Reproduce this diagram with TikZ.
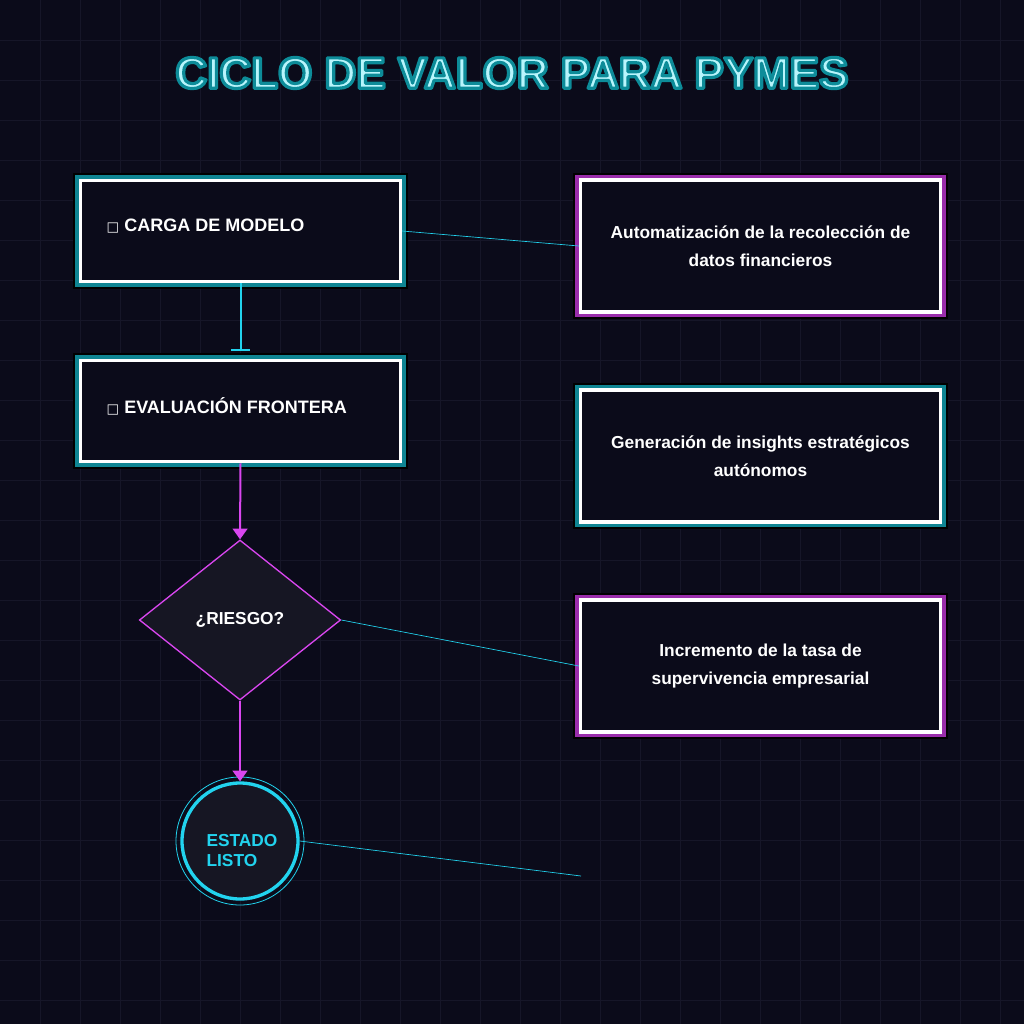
\documentclass[tikz,border=0pt]{standalone}
\usepackage{fontspec}
\setmainfont{Liberation Sans}
\newfontfamily\symfont{DejaVu Sans}
\usetikzlibrary{shapes.geometric,arrows.meta}
\definecolor{bgdark}{HTML}{0B0B1A}
\definecolor{gridc}{HTML}{161628}
\definecolor{cyanc}{HTML}{22D3EE}
\definecolor{tealg}{HTML}{0F8593}
\definecolor{magc}{HTML}{D946EF}
\definecolor{magg}{HTML}{9A2DAB}
\definecolor{nodefill}{HTML}{161623}
\definecolor{titlec}{HTML}{A5F3FC}

\begin{document}
\begin{tikzpicture}[x=0.75pt,y=-0.75pt,
  step box/.style={rectangle,draw=white,line width=2.4pt,fill=bgdark,
    minimum width=240pt,minimum height=76pt,inner sep=0pt,
    preaction={draw=black,line width=11pt},
    preaction={draw=#1,line width=8pt}},
  info box/.style={step box=#1,minimum width=270pt,minimum height=99pt,
    align=center,font=\bfseries\fontsize{13}{21}\selectfont,text=white},
  link/.style={cyanc,line width=0.5pt},
  flow/.style={magc,line width=1.5pt,-{Triangle[width=11pt,length=8pt]}}]
\useasboundingbox (0,0) rectangle (1024,1024);
\fill[bgdark] (0,0) rectangle (1024,1024);
\foreach \g in {40,80,...,1000} {
   \draw[gridc,line width=0.6pt] (\g,0) -- (\g,1024);
   \draw[gridc,line width=0.6pt] (0,\g) -- (1024,\g);
}
% title
\node (title) at (512,73) {\bfseries\fontsize{33}{40}\selectfont
   \special{pdf:literal direct 2 Tr 1 j 2.4 w 0.05 0.55 0.6 RG 0.72 0.96 0.99 rg}CICLO DE VALOR PARA PYMES\special{pdf:literal direct 0 Tr 0 j}};
% flow
\node[step box=tealg] (carga) at (240.5,231) {};
\node[anchor=west,text=white,font=\bfseries\fontsize{13.5}{15}\selectfont] (cargat) at (102,226) {{\symfont\fontsize{10}{12}\selectfont □} CARGA DE MODELO};
\node[step box=tealg] (eval) at (240.5,411) {};
\node[anchor=west,text=white,font=\bfseries\fontsize{13.5}{15}\selectfont] (evalt) at (102,406) {{\symfont\fontsize{10}{12}\selectfont □} EVALUACIÓN FRONTERA};
\node[diamond,draw=magc,line width=1pt,fill=nodefill,minimum width=151pt,minimum height=120pt,
   inner sep=0pt,text=white,font=\bfseries\fontsize{13}{15}\selectfont] (riesgo) at (240,620) {¿RIESGO?};
\node[circle,draw=cyanc,line width=2.5pt,fill=nodefill,minimum size=87pt,inner sep=0pt] (listo) at (240,841) {};
\node[align=left,text=cyanc,font=\bfseries\fontsize{13}{15}\selectfont] (listot) at (242,851) {ESTADO\\ LISTO};
\draw[cyanc,line width=0.6pt] (listo.center) circle (48pt);
\draw[cyanc,line width=1.5pt,-{Bar[width=14pt]},shorten >=6pt] (carga.south) -- (eval.north);
\draw[flow] (eval.south) -- (riesgo.north);
\draw[flow] (riesgo.south) -- (listo.north);
% benefits
\node[info box=magg] (autom) at (760.5,246) {Automatización de la recolección de\\ datos financieros};
\node[info box=tealg] (insight) at (760.5,456) {Generación de insights estratégicos\\ autónomos};
\node[info box=magg] (superv) at (760.5,666) {Incremento de la tasa de\\ supervivencia empresarial};
\coordinate (listoend) at (581,876);
\draw[link] (carga.east) -- (autom.west);
\draw[link] (riesgo.east) -- (superv.west);
\draw[link] (listo.east) -- (listoend);
\end{tikzpicture}
\end{document}
